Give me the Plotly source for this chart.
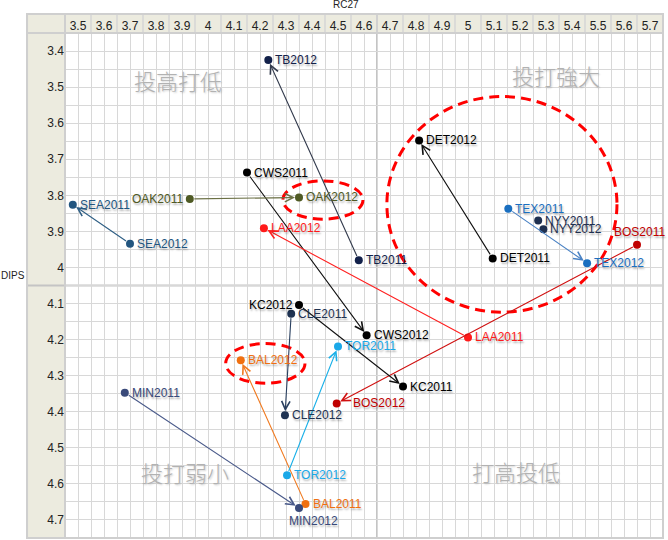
import plotly.graph_objects as go

# ---------------- data ----------------
teams = ["TB", "CWS", "OAK", "SEA", "LAA", "DET", "TEX", "NYY", "BOS", "KC", "CLE", "BAL", "MIN", "TOR"]
rc27_2011 = [4.58, 4.15, 3.93, 3.48, 5.00, 5.095, 5.155, 5.27, 5.65, 4.75, 4.32, 4.375, 3.68, 4.50]
dips_2011 = [3.98, 3.737, 3.81, 3.826, 4.194, 3.975, 3.837, 3.87, 3.937, 4.33, 4.128, 4.656, 4.347, 4.219]
rc27_2012 = [4.232, 4.61, 4.35, 3.70, 4.215, 4.812, 5.458, 5.29, 4.495, 4.35, 4.296, 4.126, 4.35, 4.304]
dips_2012 = [3.425, 4.188, 3.806, 3.934, 3.891, 3.648, 3.988, 3.894, 4.377, 4.104, 4.41, 4.257, 4.667, 4.576]
arrow_to = ["2012", "2012", "2012", "2011", "2012", "2012", "2012", "2012", "2012", "2011", "2012", "2012", "2012", "2011"]
dot_colors = ["#13214a", "#000000", "#4f5a24", "#22557f", "#ff1a1a", "#000000", "#1a6fc0", "#1f3050",
              "#c00000", "#000000", "#1f3352", "#f07010", "#3a4a7a", "#1aa8e8"]
line_colors = ["#333b4d", "#111111", "#6b7045", "#2f5f85", "#ff2020", "#111111", "#4a82c4", "#1f3050",
               "#d01010", "#111111", "#2a4060", "#f07a20", "#4a5a8a", "#1ab0e8"]
text_colors = ["#13214a", "#000000", "#4f5a24", "#22557f", "#ff1a1a", "#000000", "#1a6fc0", "#1f3050",
               "#c00000", "#000000", "#1f3352", "#f07010", "#3a4a7a", "#1aa8e8"]

quad_labels = ["投高打低", "投打強大", "投打弱小", "打高投低"]
quad_x = [3.886, 5.338, 3.91, 5.185]
quad_y = [3.481, 3.467, 4.567, 4.564]

# highlight ellipses (x0, x1, y0, y1)
ell_x0 = [4.688, 4.288, 4.068]
ell_x1 = [5.573, 4.596, 4.373]
ell_y0 = [3.526, 3.760, 4.211]
ell_y1 = [4.124, 3.866, 4.321]

x_range = [3.45, 5.75]
y_range = [4.75, 3.35]
quad_split_x = 4.65
quad_split_y = 4.05

# label placement overrides: name -> (xanchor, yanchor, xshift, yshift)
label_pos = {
    "OAK2011": ("right", "middle", -5, 0),
    "KC2012": ("right", "middle", -4, 0),
    "MIN2012": ("center", "top", 14, -4),
    "BOS2011": ("center", "bottom", 2, 4),
    "BOS2012": ("left", "middle", 14, 0),
}

FONT = "Liberation Sans, Arial, sans-serif"
fig = go.Figure()

# markers
for i, t in enumerate(teams):
    fig.add_trace(go.Scatter(
        x=[rc27_2011[i], rc27_2012[i]], y=[dips_2011[i], dips_2012[i]],
        mode="markers", marker=dict(size=8, color=dot_colors[i]),
        hoverinfo="skip", showlegend=False))

annotations = []
# arrows
for i, t in enumerate(teams):
    if arrow_to[i] == "2012":
        hx, hy, tx, ty = rc27_2012[i], dips_2012[i], rc27_2011[i], dips_2011[i]
    else:
        hx, hy, tx, ty = rc27_2011[i], dips_2011[i], rc27_2012[i], dips_2012[i]
    annotations.append(dict(
        x=hx, y=hy, ax=tx, ay=ty, xref="x", yref="y", axref="x", ayref="y",
        text="", showarrow=True, arrowhead=5, arrowsize=1.5, arrowwidth=1.1,
        arrowcolor=line_colors[i], standoff=4, startstandoff=3))

# point labels
for i, t in enumerate(teams):
    for yr, xv, yv in (("2011", rc27_2011[i], dips_2011[i]), ("2012", rc27_2012[i], dips_2012[i])):
        name = t + yr
        xa, ya, xs, ys = label_pos.get(name, ("left", "middle", 5, 0))
        annotations.append(dict(
            x=xv, y=yv, xref="x", yref="y", text=name, showarrow=False,
            xanchor=xa, yanchor=ya, xshift=xs, yshift=ys,
            font=dict(family=FONT, size=12, color=text_colors[i],
                      shadow="1px 2px 2px rgba(0,0,0,0.3)")))

# quadrant watermark labels
for lab, qx, qy in zip(quad_labels, quad_x, quad_y):
    annotations.append(dict(
        x=qx, y=qy, xref="x", yref="y", text=lab, showarrow=False,
        font=dict(family="Noto Sans CJK TC, Noto Sans CJK SC, sans-serif", size=22, color="#b2b2b2",
                  weight=300, shadow="1px 1px 2px rgba(0,0,0,0.2)")))

# axis titles
annotations.append(dict(x=0.47, y=1.0555, xref="paper", yref="paper", text="RC27", showarrow=False,
                        xanchor="center", yanchor="middle", font=dict(family=FONT, size=10, color="#222")))
annotations.append(dict(x=-0.087, y=0.519, xref="paper", yref="paper", text="DIPS", showarrow=False,
                        xanchor="center", yanchor="middle", font=dict(family=FONT, size=10, color="#222")))

shapes = []
band = "#ecebdf"
edge = "#cfcfcf"
left_px = -0.0635
top_p = 1.0376
# header bands
shapes.append(dict(type="rect", xref="paper", yref="paper", x0=left_px, x1=1, y0=1, y1=top_p,
                   fillcolor=band, line=dict(width=0), layer="below"))
shapes.append(dict(type="rect", xref="paper", yref="paper", x0=left_px, x1=0, y0=0, y1=1,
                   fillcolor=band, line=dict(width=0), layer="below"))
# header separators at column boundaries
k = 0
while True:
    xb = round(x_range[0] + 0.1 * (k + 1), 3)
    if xb >= x_range[1]:
        break
    shapes.append(dict(type="line", xref="x", yref="paper", x0=xb, x1=xb, y0=1, y1=top_p,
                       line=dict(color="#d6d6d6", width=1.5)))
    k += 1
# quadrant split lines
shapes.append(dict(type="line", xref="x", yref="paper", x0=quad_split_x, x1=quad_split_x, y0=0, y1=top_p,
                   line=dict(color="#c4c4c4", width=2), layer="below"))
shapes.append(dict(type="line", xref="paper", yref="y", x0=left_px, x1=1, y0=quad_split_y, y1=quad_split_y,
                   line=dict(color="#c4c4c4", width=2), layer="below"))
# borders
shapes.append(dict(type="rect", xref="paper", yref="paper", x0=left_px, x1=1, y0=0, y1=top_p,
                   line=dict(color=edge, width=2), fillcolor="rgba(0,0,0,0)"))
shapes.append(dict(type="line", xref="paper", yref="paper", x0=0, x1=0, y0=0, y1=top_p,
                   line=dict(color=edge, width=2)))
shapes.append(dict(type="line", xref="paper", yref="paper", x0=left_px, x1=1, y0=1, y1=1,
                   line=dict(color=edge, width=2)))
# highlight ellipses
for a, b, c, d in zip(ell_x0, ell_x1, ell_y0, ell_y1):
    shapes.append(dict(type="circle", xref="x", yref="y", x0=a, x1=b, y0=c, y1=d,
                       line=dict(color="#ff0000", width=3, dash="10px,6px")))

grid = "#d8d8d8"
fig.update_layout(
    width=668, height=540,
    margin=dict(l=65, r=5, t=33, b=2, autoexpand=False),
    paper_bgcolor="white", plot_bgcolor="white",
    showlegend=False,
    xaxis=dict(range=x_range, side="top", dtick=0.1, tick0=3.5, showgrid=True, gridcolor=grid, gridwidth=1,
               minor=dict(dtick=0.05, tick0=3.45, showgrid=True, gridcolor=grid, gridwidth=1),
               zeroline=False, showline=False, ticks="", automargin=False,
               tickfont=dict(family=FONT, size=12, color="#222")),
    yaxis=dict(range=y_range, dtick=0.1, tick0=3.4, showgrid=True, gridcolor=grid, gridwidth=1,
               minor=dict(dtick=0.05, tick0=3.35, showgrid=True, gridcolor=grid, gridwidth=1),
               zeroline=False, showline=False, ticks="", automargin=False,
               tickfont=dict(family=FONT, size=12, color="#222")),
    annotations=annotations,
    shapes=shapes,
)

fig.write_html("out.html", config={"displayModeBar": False},
               post_script="document.body.style.margin='0';document.body.style.padding='0';")
